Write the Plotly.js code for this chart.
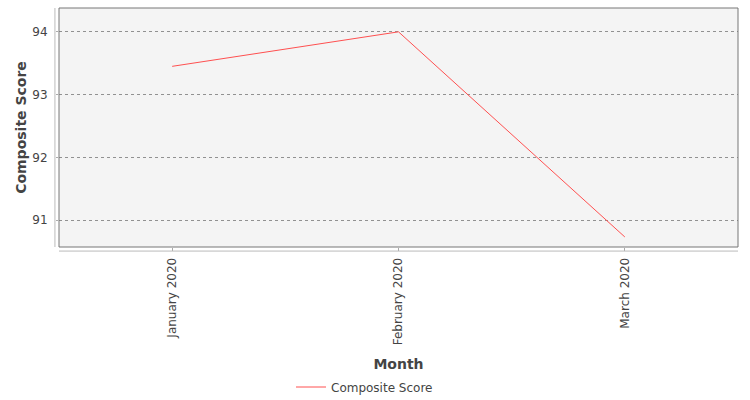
<!DOCTYPE html>
<html>
<head>
<meta charset="utf-8">
<script src="https://cdn.plot.ly/plotly-3.0.1.min.js"></script>
<style>
  body { margin: 0; background: #fff; }
  #chart { width: 750px; height: 400px; }
</style>
</head>
<body>
<div id="chart"></div>
<script>
const months = ["January 2020", "February 2020", "March 2020"];
const compositeScore = [93.45, 94.0, 90.73];
const yTicks = [91, 92, 93, 94];

const font = { family: "DejaVu Sans, sans-serif", size: 12, color: "#444" };
const titleFont = { family: "DejaVu Sans, sans-serif", size: 14, color: "#444", weight: "bold" };

Plotly.newPlot("chart", [{
    x: [0, 1, 2],
    y: compositeScore,
    name: "Composite Score",
    mode: "lines",
    type: "scatter",
    line: { color: "#ff5050", width: 1 },
}], {
    width: 750,
    height: 400,
    margin: { l: 59, r: 12, t: 8, b: 153, autoexpand: false },
    paper_bgcolor: "#ffffff",
    plot_bgcolor: "#f4f4f4",
    font: font,
    showlegend: true,
    legend: {
        orientation: "h",
        xref: "container", yref: "container",
        x: 0.486, xanchor: "center",
        y: 0.0325, yanchor: "middle",
        font: font,
    },
    xaxis: {
        range: [-0.5, 2.5],
        tickvals: [0, 1, 2],
        ticktext: months,
        tickangle: -90,
        ticks: "outside",
        ticklen: 3,
        tickcolor: "#aaa",
        ticklabelstandoff: 2,
        showgrid: false,
        zeroline: false,
        showline: false,
        title: { text: "Month", font: titleFont, standoff: 18 },
        automargin: false,
    },
    yaxis: {
        range: [90.57, 94.38],
        tickvals: yTicks,
        ticks: "outside",
        ticklen: 2,
        tickcolor: "#aaa",
        ticklabelstandoff: 6,
        showgrid: true,
        gridcolor: "#666",
        griddash: "dot",
        gridwidth: 0.7,
        zeroline: false,
        showline: false,
        title: { text: "Composite Score", font: titleFont, standoff: 2 },
        automargin: false,
    },
    shapes: [
        { type: "rect", xref: "paper", yref: "paper", x0: 0, x1: 1, y0: 0, y1: 1,
          line: { color: "#777", width: 1 }, layer: "above" },
        { type: "line", xref: "paper", yref: "paper", x0: -0.006, x1: -0.006, y0: 0, y1: 1,
          line: { color: "#bbb", width: 1 } },
        { type: "line", xref: "paper", yref: "paper", x0: 0, x1: 1, y0: -0.017, y1: -0.017,
          line: { color: "#bbb", width: 1 } },
    ],
}, { displayModeBar: false, staticPlot: true });
</script>
</body>
</html>
